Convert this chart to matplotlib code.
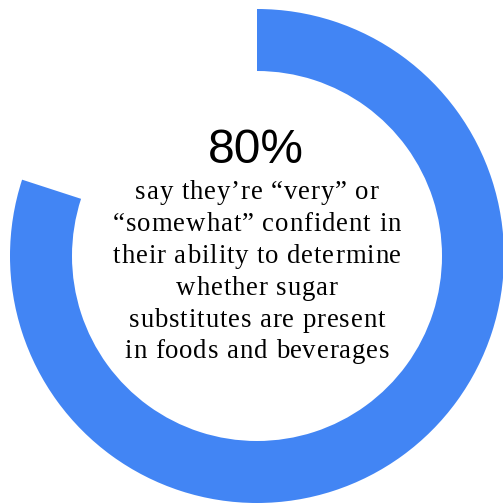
import matplotlib
matplotlib.use("Agg")
import matplotlib.pyplot as plt
from matplotlib.font_manager import FontProperties

# ---- data ----
values = [80, 20]
slice_labels = ["very or somewhat confident", "other"]
slice_colors = ["#4285F4", "none"]
headline = "80%"
caption_lines = [
    "say they\u2019re \u201cvery\u201d or",
    "\u201csomewhat\u201d confident in",
    "their ability to determine",
    "whether sugar",
    "substitutes are present",
    "in foods and beverages",
]

W, H = 503, 504
fig = plt.figure(figsize=(W / 100, H / 100), dpi=100)
fig.patch.set_facecolor("white")
ax = fig.add_axes([0, 0, 1, 1])

cx, cy = 257, H - 256
R = 247
ax.pie(values, colors=slice_colors, startangle=90, counterclock=False,
       center=(cx, cy), radius=R, frame=True,
       wedgeprops=dict(width=62, linewidth=0, edgecolor="none"))
ax.set_xlim(0, W)
ax.set_ylim(0, H)
ax.set_aspect("equal")
ax.axis("off")

ax.text(256, H - 163, headline, ha="center", va="baseline",
        fontsize=34.5, family="Liberation Sans", color="black")

prop = FontProperties(family="Liberation Serif", size=19.3)
renderer = fig.canvas.get_renderer()
tracking = 0.9  # px between glyphs


def wpx(s):
    w, h, d = renderer.get_text_width_height_descent(s, prop, ismath=False)
    return w


bar = wpx("|")
baselines = [199, 231, 263, 295, 327, 358]
for line, b in zip(caption_lines, baselines):
    offs = []
    for i in range(len(line)):
        offs.append(wpx(line[:i] + "|") - bar if i > 0 else 0.0)
    total = wpx(line) + tracking * (len(line) - 1)
    x0 = 257 - total / 2
    for i, ch in enumerate(line):
        if ch == " ":
            continue
        ax.text(x0 + offs[i] + tracking * i, H - b, ch, ha="left",
                va="baseline", fontproperties=prop, color="black")

fig.savefig("out.png", dpi=100, facecolor="white")
